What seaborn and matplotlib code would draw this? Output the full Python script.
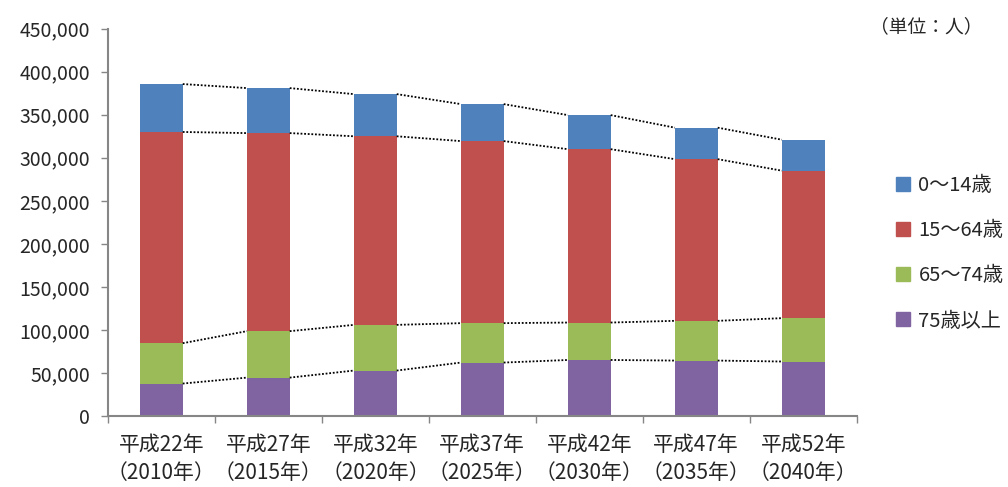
import numpy as np
import pandas as pd
import seaborn as sns
import matplotlib
matplotlib.use("Agg")
import matplotlib.pyplot as plt
from matplotlib.lines import Line2D
from matplotlib.ticker import FuncFormatter, FixedLocator

# === Data (people, by age group) ===
years = ["平成22年\n（2010年）", "平成27年\n（2015年）", "平成32年\n（2020年）",
         "平成37年\n（2025年）", "平成42年\n（2030年）", "平成47年\n（2035年）",
         "平成52年\n（2040年）"]
age_0_14 = [55700, 52300, 49000, 43000, 39600, 36600, 36000]
age_15_64 = [245500, 230200, 219200, 211600, 201500, 187900, 171400]
age_65_74 = [46900, 54000, 53100, 45800, 43500, 46200, 50400]
age_75_up = [37600, 44500, 52700, 62000, 65000, 64300, 63200]

groups = ["0～14歳", "15～64歳", "65～74歳", "75歳以上"]
colors = ["#4F81BD", "#C0504D", "#9BBB59", "#8064A2"]

sns.set_style("white")
plt.rcParams["font.family"] = ["Noto Sans CJK JP", "DejaVu Sans"]

df = pd.DataFrame({
    "year": years,
    "75歳以上": age_75_up,
    "65～74歳": age_65_74,
    "15～64歳": age_15_64,
    "0～14歳": age_0_14,
})
# cumulative tops, bottom segment first
stack_order = ["75歳以上", "65～74歳", "15～64歳", "0～14歳"]
cum = df[stack_order].cumsum(axis=1)

fig = plt.figure(figsize=(10.08, 4.87), dpi=100)
ax = fig.add_axes([0.107, 0.146, 0.743, 0.795])

bar_w = 0.4
# draw tallest first so shorter ones overlay
for g in reversed(stack_order):
    c = colors[groups.index(g)]
    sns.barplot(x=df["year"], y=cum[g], color=c, width=bar_w,
                saturation=1, linewidth=0, ax=ax, order=years)

# dotted series lines between bars
n = len(years)
for g in stack_order:
    tops = cum[g].values
    for i in range(n - 1):
        ax.plot([i + bar_w / 2, i + 1 - bar_w / 2], [tops[i], tops[i + 1]],
                ls=(0, (1, 1)), color="black", lw=1.3, zorder=5)

ax.set_xlim(-0.5, n - 0.5)
ax.set_ylim(0, 450000)
ax.yaxis.set_major_locator(FixedLocator(np.arange(0, 450001, 50000)))
ax.yaxis.set_major_formatter(FuncFormatter(lambda v, p: f"{int(v):,}"))
ax.set_xlabel("")
ax.set_ylabel("")

spine_c = "#868686"
for s in ["top", "right"]:
    ax.spines[s].set_visible(False)
for s in ["left", "bottom"]:
    ax.spines[s].set_color(spine_c)
    ax.spines[s].set_linewidth(1.5)

ax.tick_params(axis="y", which="major", direction="out", length=5, width=1,
               color=spine_c, labelsize=14, pad=8, left=True)
ax.set_xticks(range(n))
ax.set_xticklabels(years, fontsize=15, linespacing=1.35)
ax.tick_params(axis="x", which="major", length=0, pad=13)
ax.set_xticks(np.arange(-0.5, n, 1), minor=True)
ax.tick_params(axis="x", which="minor", direction="out", length=5, width=1,
               color=spine_c, bottom=True)

fig.text(0.863, 0.945, "（単位：人）", fontsize=13.5, ha="left", va="center")

handles = [Line2D([], [], marker="s", ls="", markersize=10,
                  markerfacecolor=c, markeredgecolor=c) for c in colors]
ax.legend(handles, groups, loc="center left", bbox_to_anchor=(1.038, 0.42),
          frameon=False, fontsize=14.5, labelspacing=1.2, handletextpad=0.25,
          handlelength=1.0, borderaxespad=0)

fig.savefig("out.png", dpi=100)
